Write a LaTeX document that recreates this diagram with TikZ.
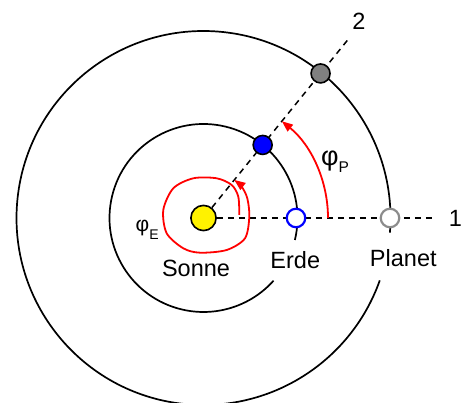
\documentclass[tikz,border=0pt]{standalone}
\usepackage{fontspec}
\setmainfont{Liberation Sans}
\usetikzlibrary{arrows.meta}
\begin{document}
\begin{tikzpicture}[x=1pt,y=1pt,
  orbit/.style={line width=1.7pt},
  axisline/.style={line width=1.5pt, dash pattern=on 6pt off 5pt},
  angarrow/.style={red, line width=1.8pt, -{Triangle[length=11pt,width=8.5pt]}},
  lbl/.style={font=\fontsize{23.5}{24}\selectfont, inner sep=0pt},
  body/.style={circle, draw, inner sep=0pt, line width=1.6pt, minimum size=19pt}]
\useasboundingbox (0,0) rectangle (461,403);
\coordinate (S) at (203.5,185);
% orbits
\draw[orbit] (S) ++(-4.5:187) arc[start angle=-4.5, end angle=340.5, radius=187];
\draw[orbit] (S) ++(-13.5:94) arc[start angle=-13.5, end angle=318.2, radius=94];
% sun
\node[body, fill=yellow, minimum size=25.2pt] (sun) at (S) {};
% axis ends
\coordinate (end1) at (435,185);
\path (S) ++(51:231) coordinate (end2);
\draw[axisline] (sun) -- (end1);
\draw[axisline] (sun) -- (end2);
% angle arrows
\draw[angarrow] (S) ++(0:124.5) arc[start angle=0, end angle=51, radius=124.5];
\begin{scope}[shift={(S)}]
\draw[angarrow] plot[smooth] coordinates {(35.8,3) (34.8,21.3) (28.2,33) (13.2,39.7) (-10.2,39.7) (-30.2,29.7) (-40.2,8) (-36.8,-15.3) (-20.2,-30.3) (-3.5,-34.7) (23.2,-32) (41.5,-20.3) (45.8,1.3) (43.8,19.7) (38.2,31.3) (30.8,38.1)};
\end{scope}
% bodies
\node[body, draw=blue, fill=white, line width=2.2pt, minimum size=18.5pt] (E1) at (296,185) {};
\node[body, draw=black!45, fill=white, line width=2.2pt, minimum size=18.5pt] (P1) at (390,185) {};
\path (S) ++(51:94) node[body, fill=blue] (E2) {};
\path (S) ++(51:186) node[body, fill=black!50] (P2) {};
% labels
\node[lbl, anchor=base] (sonne) at (196,126) {Sonne};
\node[lbl, anchor=base] (erde) at (295.3,134.7) {Erde};
\node[lbl, anchor=base] (planet) at (403.3,136.3) {Planet};
\node[lbl, anchor=base] (one) at (455.5,176.3) {1};
\node[lbl, anchor=base] (two) at (359,373.7) {2};
\node[anchor=base west, inner sep=0pt, font=\fontsize{27}{27}\selectfont] (phiP) at (321,237) {φ\raisebox{-7pt}{\fontsize{15.5}{15.5}\selectfont P}};
\node[anchor=base west, inner sep=0pt, font=\fontsize{21}{21}\selectfont] (phiE) at (135.5,171) {φ\raisebox{-8pt}{\fontsize{14}{14}\selectfont E}};
\end{tikzpicture}
\end{document}
